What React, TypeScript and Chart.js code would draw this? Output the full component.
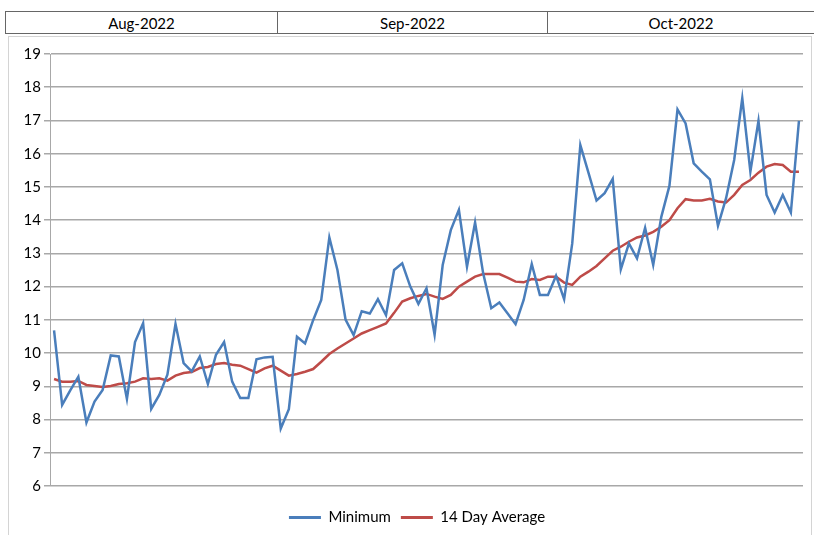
import React, { useEffect, useRef } from "react";
import { Chart, registerables } from "chart.js";

Chart.register(...registerables);

const months = ["Aug-2022", "Sep-2022", "Oct-2022"];

const minimum = [
  10.68, 8.44, 8.88, 9.29, 7.91, 8.54, 8.89, 9.93, 9.9, 8.62,
  10.33, 10.9, 8.32, 8.74, 9.35, 10.88, 9.7, 9.45, 9.9, 9.07,
  9.95, 10.33, 9.14, 8.65, 8.65, 9.81, 9.87, 9.89, 7.73, 8.31,
  10.49, 10.29, 10.99, 11.6, 13.48, 12.5, 11.01, 10.54, 11.26, 11.19,
  11.62, 11.14, 12.5, 12.7, 12.0, 11.48, 11.95, 10.55, 12.65, 13.7,
  14.31, 12.6, 13.93, 12.4, 11.35, 11.52, 11.2, 10.87, 11.6, 12.68,
  11.75, 11.75, 12.33, 11.62, 13.3, 16.26, 15.43, 14.59, 14.81, 15.24,
  12.52, 13.3, 12.85, 13.77, 12.65, 14.1, 15.03, 17.33, 16.91, 15.71,
  15.46, 15.23, 13.83, 14.66, 15.81, 17.67, 15.46, 16.99, 14.76, 14.23,
  14.76, 14.23, 16.99,
];

const average14 = [
  9.22, 9.14, 9.14, 9.16, 9.04, 9.01, 8.98, 9.01, 9.07, 9.09,
  9.14, 9.24, 9.22, 9.24, 9.17, 9.32, 9.4, 9.43, 9.55, 9.58,
  9.67, 9.7, 9.65, 9.62, 9.52, 9.41, 9.54, 9.62, 9.47, 9.32,
  9.37, 9.44, 9.52, 9.74, 9.97, 10.14, 10.29, 10.44, 10.59, 10.69,
  10.79, 10.89, 11.21, 11.55, 11.65, 11.72, 11.78, 11.7, 11.63, 11.75,
  12.0, 12.15, 12.3, 12.38, 12.38, 12.38, 12.27, 12.15, 12.13, 12.23,
  12.2, 12.3, 12.3, 12.12, 12.05, 12.3, 12.45, 12.62, 12.85, 13.08,
  13.2, 13.35, 13.48, 13.54, 13.65, 13.8, 14.0, 14.36, 14.63, 14.59,
  14.59, 14.64, 14.56, 14.53, 14.76, 15.06, 15.21, 15.43, 15.61, 15.69,
  15.66, 15.46, 15.46,
];

const yMin = 6;
const yMax = 19;

// day categories (one per reading)
const days: string[] = [];
{
  const start = new Date(2022, 7, 1);
  for (let i = 0; i < minimum.length; i++) {
    const d = new Date(start.getFullYear(), start.getMonth(), start.getDate() + i);
    days.push(d.toISOString().slice(0, 10));
  }
}

const FONT = "Lato, 'Open Sans', sans-serif";

const legendShift = {
  id: "legendShift",
  afterLayout(chart: any) {
    const lg = chart.legend;
    if (lg) {
      lg.left += 31;
      lg.right += 0;
    }
  },
};

export default function App() {
  const canvasRef = useRef<HTMLCanvasElement | null>(null);

  useEffect(() => {
    const canvas = canvasRef.current;
    if (!canvas) return;
    const chart = new Chart(canvas, {
      type: "line",
      data: {
        labels: days,
        datasets: [
          {
            label: "Minimum",
            data: minimum,
            borderColor: "#4a7ebb",
            backgroundColor: "#4a7ebb",
            borderWidth: 2.5,
            pointRadius: 0,
            tension: 0,
          },
          {
            label: "14 Day Average",
            data: average14,
            borderColor: "#be4b48",
            backgroundColor: "#be4b48",
            borderWidth: 2.5,
            pointRadius: 0,
            tension: 0,
          },
        ],
      },
      options: {
        responsive: false,
        animation: false,
        devicePixelRatio: 1,
        layout: { padding: { left: 0, right: 11, top: 18, bottom: 0 } },
        scales: {
          x: {
            type: "category",
            offset: true,
            grid: { display: false },
            ticks: { display: false },
            border: { display: false },
            afterFit: (s: any) => {
              s.height = 14;
            },
          },
          y: {
            min: yMin,
            max: yMax,
            ticks: {
              stepSize: 1,
              color: "#000",
              padding: 3,
              font: { family: FONT, size: 15 },
            },
            grid: { color: "#a8a8a8", lineWidth: 1.5, tickLength: 6 },
            border: { color: "#a8a8a8", width: 1 },
            afterFit: (s: any) => {
              s.width = 50;
            },
          },
        },
        plugins: {
          tooltip: { enabled: false },
          legend: {
            position: "bottom",
            labels: {
              boxWidth: 32,
              boxHeight: 3,
              padding: 10,
              color: "#000",
              font: { family: FONT, size: 15 },
              generateLabels: (c: any) =>
                Chart.defaults.plugins.legend.labels
                  .generateLabels(c)
                  .map((l: any) => ({ ...l, lineWidth: 0, strokeStyle: "transparent" })),
            },
          },
        },
      },
      plugins: [legendShift],
    });
    return () => chart.destroy();
  }, []);

  const cellBase: React.CSSProperties = {
    position: "absolute",
    top: 11,
    height: 21,
    borderTop: "1px solid #666",
    borderBottom: "1px solid #666",
    borderLeft: "1px solid #666",
    boxSizing: "content-box",
    display: "flex",
    alignItems: "center",
    justifyContent: "center",
    fontFamily: FONT,
    fontSize: 15,
    color: "#000",
    background: "#fff",
  };
  const cellEdges = [5, 277, 547, 830];

  return (
    <div
      style={{
        position: "fixed",
        left: 0,
        top: 0,
        width: 814,
        height: 535,
        overflow: "hidden",
        background: "#fff",
      }}
    >
      {months.map((m, i) => (
        <div
          key={m}
          style={{
            ...cellBase,
            left: cellEdges[i],
            width: cellEdges[i + 1] - cellEdges[i] - 1,
          }}
        >
          <span style={{ marginRight: i === 2 ? 16 : 0 }}>{m}</span>
        </div>
      ))}
      <div
        style={{
          position: "absolute",
          left: 8,
          top: 36,
          width: 802,
          height: 520,
          border: "1px solid #d4d4d4",
        }}
      />
      <canvas
        ref={canvasRef}
        width={814}
        height={499}
        style={{ position: "absolute", left: 0, top: 36, width: 814, height: 499 }}
      />
    </div>
  );
}
